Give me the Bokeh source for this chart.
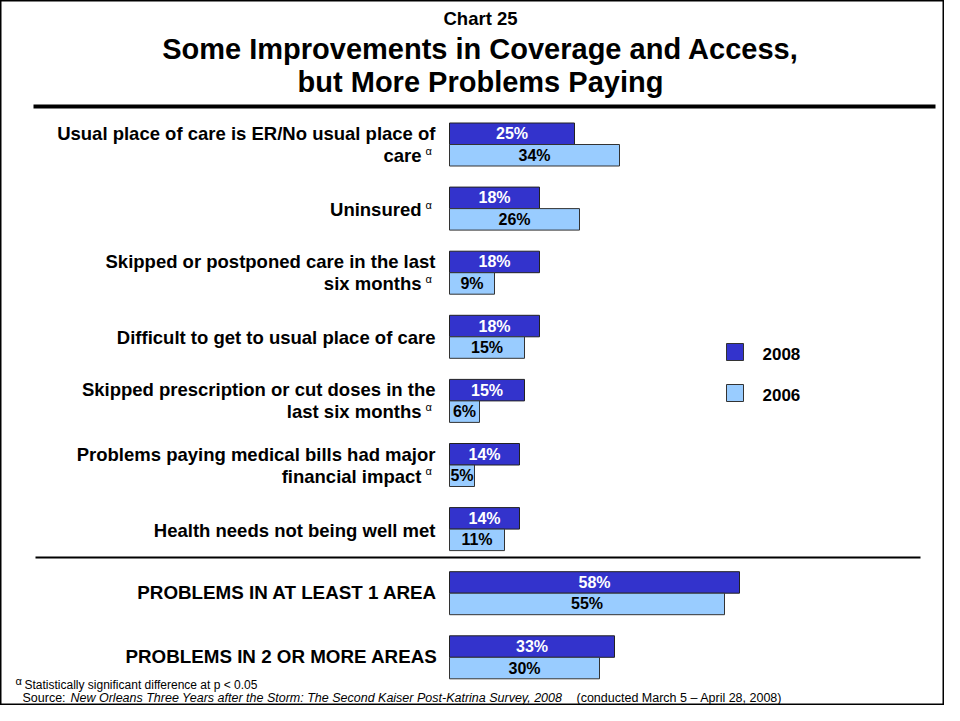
from bokeh.plotting import figure
from bokeh.models import Range1d, ColumnDataSource
from bokeh.core.properties import value
from bokeh.embed import file_html
from bokeh.resources import INLINE

# ---------------- data ----------------
label_line1 = [
    "Usual place of care is ER/No usual place of",
    "Uninsured",
    "Skipped or postponed care in the last",
    "Difficult to get to usual place of care",
    "Skipped prescription or cut doses in the",
    "Problems paying medical bills had major",
    "Health needs not being well met",
    "PROBLEMS IN AT LEAST 1 AREA",
    "PROBLEMS IN 2 OR MORE AREAS",
]
label_line2 = ["care", "", "six months", "", "last six months", "financial impact", "", "", ""]
significant = [True, True, True, False, True, True, False, False, False]
v2008 = [25, 18, 18, 18, 15, 14, 14, 58, 33]
v2006 = [34, 26, 9, 15, 6, 5, 11, 55, 30]
series_names = ["2008", "2006"]

title_small = "Chart 25"
title_lines = ["Some Improvements in Coverage and Access,", "but More Problems Paying"]
footnote = "Statistically significant difference at p < 0.05"
source_a = "Source:"
source_b = "New Orleans Three Years after the Storm: The Second Kaiser Post-Katrina Survey, 2008"
source_c = "(conducted March 5 \u2013 April 28, 2008)"

DARK = "#3333CC"
LIGHT = "#99CCFF"
FONT = "Liberation Sans"

# ---------------- layout ----------------
W, H = 944, 705
X0 = 449.0      # pixel of 0 %
PX_PER_PCT = 5.0
ROW0 = 144.0    # pixel of first group centre
ROW = 64.1      # row pitch in pixels
BAR_H = 21.5 / ROW

xr = Range1d((0 - X0) / PX_PER_PCT, (W - X0) / PX_PER_PCT)
yr = Range1d(-(H - ROW0) / ROW, ROW0 / ROW)

p = figure(width=W, height=H, x_range=xr, y_range=yr, output_backend="svg",
           toolbar_location=None, min_border=0)
p.extra_x_ranges = {"px": Range1d(0, W)}
p.extra_y_ranges = {"px": Range1d(H, 0)}
p.axis.visible = False
p.grid.visible = False
p.outline_line_color = "black"
p.outline_line_width = 2
p.background_fill_color = "white"
p.border_fill_color = "white"

n = len(v2008)
ypos = [-i for i in range(n)]
off = BAR_H / 2
src = ColumnDataSource(dict(
    y08=[y + off for y in ypos],
    y06=[y - off for y in ypos],
    v08=v2008, v06=v2006,
    m08=[v / 2 for v in v2008], m06=[v / 2 for v in v2006],
    t08=[f"{v}%" for v in v2008], t06=[f"{v}%" for v in v2006],
))

p.hbar(y="y08", left=0, right="v08", height=BAR_H, source=src,
       fill_color=DARK, line_color="#222222", line_width=1)
p.hbar(y="y06", left=0, right="v06", height=BAR_H, source=src,
       fill_color=LIGHT, line_color="#333333", line_width=1)

p.text(x="m08", y="y08", text="t08", source=src, text_color="white",
       text_font=value(FONT), text_font_style="bold", text_font_size="16px",
       text_align="center", text_baseline="middle")
p.text(x="m06", y="y06", text="t06", source=src, text_color="black",
       text_font=value(FONT), text_font_style="bold", text_font_size="16px",
       text_align="center", text_baseline="middle")

# ---------------- texts in pixels ----------------
def ptext(x, y, s, size, style="bold", align="left", color="black", baseline="middle"):
    p.text(x=[x], y=[y], text=[s], x_range_name="px", y_range_name="px",
           text_font=value(FONT), text_font_style=style, text_font_size=size,
           text_align=align, text_baseline=baseline, text_color=color)

ptext(480, 18, title_small, "18.5px", align="center")
ptext(480, 48, title_lines[0], "29px", align="center")
ptext(480, 81, title_lines[1], "29px", align="center")

p.line(x=[33, 935], y=[106, 106], x_range_name="px", y_range_name="px",
       line_color="black", line_width=4)
p.line(x=[35, 920], y=[557, 557], x_range_name="px", y_range_name="px",
       line_color="black", line_width=2)

for i in range(n):
    cy = ROW0 + ROW * i
    big = i >= 7
    size = "18.8px" if big else "18.5px"
    if label_line2[i]:
        ptext(435, cy - 11, label_line1[i], size, align="right")
        if significant[i]:
            ptext(421, cy + 11, label_line2[i], size, align="right")
            ptext(425, cy + 6, "\u03b1", "11px", style="normal")
        else:
            ptext(435, cy + 11, label_line2[i], size, align="right")
    else:
        rx = 437 if big else 435
        if significant[i]:
            ptext(421, cy + 1, label_line1[i], size, align="right")
            ptext(425, cy - 4, "\u03b1", "11px", style="normal")
        else:
            ptext(rx, cy - 1 if big else cy + 1, label_line1[i], size, align="right")

# legend
p.rect(x=[734.5], y=[351.5], width=17, height=17, x_range_name="px", y_range_name="px",
       fill_color=DARK, line_color="#333333")
p.rect(x=[734.5], y=[392.5], width=17, height=17, x_range_name="px", y_range_name="px",
       fill_color=LIGHT, line_color="#333333")
ptext(762, 353, series_names[0], "17px")
ptext(762, 394, series_names[1], "17px")

# footnotes
ptext(15, 680, "\u03b1", "11px", style="normal")
ptext(24, 684, footnote, "12px", style="normal")
ptext(22, 697, source_a, "12.5px", style="normal")
ptext(70, 697, source_b, "12.5px", style="italic")
ptext(576, 697, source_c, "12.5px", style="normal")

open("out.html", "w").write(file_html(p, INLINE))
